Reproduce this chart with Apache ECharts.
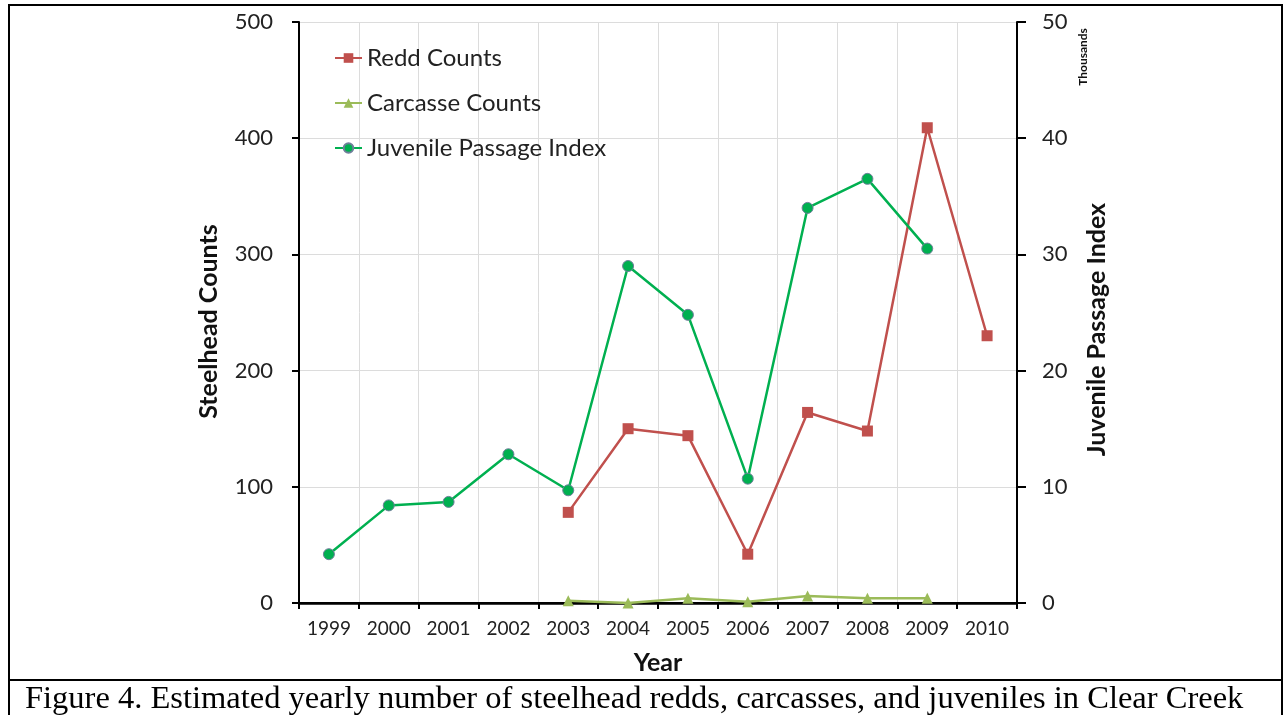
<!DOCTYPE html>
<html>
<head>
<meta charset="utf-8">
<script src="https://cdn.jsdelivr.net/npm/echarts@6/dist/echarts.min.js"></script>
<style>
html,body{margin:0;padding:0;background:#fff;}
#chart{width:1285px;height:715px;}
</style>
</head>
<body>
<div id="chart"></div>
<script>
var years = ['1999','2000','2001','2002','2003','2004','2005','2006','2007','2008','2009','2010'];
var reddCounts = [null, null, null, null, 78, 150, 144, 42, 164, 148, 409, 230];
var carcasseCounts = [null, null, null, null, 2, 0, 4, 1, 6, 4, 4, null];
var juvenileIndex = [4.2, 8.4, 8.7, 12.8, 9.7, 29.0, 24.8, 10.7, 34.0, 36.5, 30.5, null];
var leftTicks = [0, 100, 200, 300, 400, 500];
var rightTicks = [0, 10, 20, 30, 40, 50];

var FONT = 'Lato, "Open Sans", sans-serif';
var chart = echarts.init(document.getElementById('chart'), null, {renderer: 'canvas'});
chart.setOption({
  animation: false,
  backgroundColor: '#fff',
  textStyle: {fontFamily: FONT},
  grid: {left: 299, right: 268, top: 22, bottom: 112},
  legend: {
    orient: 'vertical',
    left: 329, top: 41,
    itemGap: 21,
    itemWidth: 27, itemHeight: 12,
    textStyle: {fontFamily: FONT, fontSize: 24, color: '#222'},
    data: ['Redd Counts', 'Carcasse Counts', 'Juvenile Passage Index']
  },
  xAxis: [{
    type: 'category',
    data: years,
    boundaryGap: true,
    name: 'Year',
    nameLocation: 'middle',
    nameGap: 47,
    nameTextStyle: {fontFamily: FONT, fontSize: 25, fontWeight: 'bold', color: '#111'},
    axisLine: {lineStyle: {color: '#000', width: 2.5}},
    axisTick: {show: true, inside: false, length: 6, alignWithLabel: false, lineStyle: {color: '#000', width: 2}},
    axisLabel: {fontFamily: FONT, fontSize: 19, color: '#222', margin: 16},
    splitLine: {show: true, lineStyle: {color: '#dcdcdc', width: 1}}
  }, {
    type: 'category',
    data: years,
    position: 'top',
    axisLine: {show: true, lineStyle: {color: '#000', width: 2}},
    axisTick: {show: false},
    axisLabel: {show: false},
    splitLine: {show: false}
  }],
  yAxis: [{
    type: 'value',
    min: 0, max: 500, interval: 100,
    position: 'left',
    name: 'Steelhead Counts',
    nameLocation: 'middle',
    nameGap: 78,
    nameRotate: 90,
    nameTextStyle: {fontFamily: FONT, fontSize: 25, fontWeight: 'bold', color: '#111', padding: [0, 18, 0, 0]},
    axisLine: {show: true, lineStyle: {color: '#000', width: 2}},
    axisTick: {show: true, inside: false, length: 7, lineStyle: {color: '#000', width: 2}},
    axisLabel: {fontFamily: FONT, fontSize: 22, color: '#222', margin: 26,
      formatter: function (v) { return leftTicks.indexOf(v) >= 0 ? String(v) : ''; }},
    splitLine: {show: true, lineStyle: {color: '#dcdcdc', width: 1}}
  }, {
    type: 'value',
    min: 0, max: 50, interval: 10,
    position: 'right',
    name: 'Juvenile Passage Index',
    nameLocation: 'middle',
    nameGap: 67,
    nameRotate: 90,
    nameTextStyle: {fontFamily: FONT, fontSize: 25, fontWeight: 'bold', color: '#111', padding: [0, 34, 0, 0]},
    axisLine: {show: true, lineStyle: {color: '#000', width: 2}},
    axisTick: {show: true, inside: false, length: 9, lineStyle: {color: '#000', width: 2}},
    axisLabel: {fontFamily: FONT, fontSize: 22, color: '#222', margin: 25,
      formatter: function (v) { return rightTicks.indexOf(v) >= 0 ? String(v) : ''; }},
    splitLine: {show: false}
  }],
  series: [{
    name: 'Redd Counts',
    type: 'line',
    data: reddCounts,
    yAxisIndex: 0,
    connectNulls: false,
    symbol: 'rect',
    symbolSize: 11,
    lineStyle: {color: '#C0504D', width: 2.5},
    itemStyle: {color: '#C0504D'},
    z: 3
  }, {
    name: 'Carcasse Counts',
    type: 'line',
    data: carcasseCounts,
    yAxisIndex: 0,
    symbol: 'triangle',
    symbolSize: 11,
    lineStyle: {color: '#9BBB59', width: 2.5},
    itemStyle: {color: '#9BBB59'},
    z: 4
  }, {
    name: 'Juvenile Passage Index',
    type: 'line',
    data: juvenileIndex,
    yAxisIndex: 1,
    symbol: 'circle',
    symbolSize: 11,
    lineStyle: {color: '#00B050', width: 2.5},
    itemStyle: {color: '#00B050', borderColor: '#6f7f9a', borderWidth: 1},
    z: 5
  }],
  graphic: [
    {type: 'rect', shape: {x: 9, y: 5, width: 1273, height: 720},
     style: {fill: 'none', stroke: '#000', lineWidth: 2}, silent: true},
    {type: 'line', shape: {x1: 9, y1: 680, x2: 1282, y2: 680},
     style: {stroke: '#000', lineWidth: 2}, silent: true},
    {type: 'text', x: 1083, y: 57, rotation: Math.PI / 2,
     style: {text: 'Thousands', fontFamily: FONT, fontSize: 12, fontWeight: 'bold', fill: '#111',
       align: 'center', verticalAlign: 'middle'}},
    {type: 'text', x: 25, y: 699,
     style: {text: 'Figure 4. Estimated yearly number of steelhead redds, carcasses, and juveniles in Clear Creek',
       fontFamily: '"Liberation Serif", "Times New Roman", serif', fontSize: 32.5, fill: '#000',
       align: 'left', verticalAlign: 'middle'}}
  ]
});
</script>
</body>
</html>
